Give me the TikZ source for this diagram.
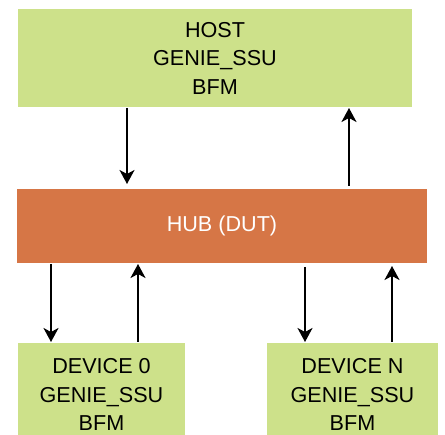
\documentclass[tikz,border=0pt]{standalone}
\usepackage{fontspec}
\setmainfont{Liberation Sans}
\usetikzlibrary{arrows.meta}

\definecolor{bfmgreen}{RGB}{205,225,138}
\definecolor{huborange}{RGB}{214,118,70}

\tikzset{every picture/.style={line width=2pt}}

\begin{document}
\begin{tikzpicture}[x=1pt,y=1pt,yscale=-1,xscale=1,
  bfmbox/.style={fill=bfmgreen,draw=none,align=center,inner sep=0pt,
    font=\fontsize{21.6}{28.5}\selectfont},
  dutbox/.style={fill=huborange,draw=none,text=white,inner sep=0pt,
    font=\fontsize{21.6}{28.5}\selectfont},
  flow/.style={-{Stealth[length=14pt,width=15pt,inset=4pt]},line width=2pt}]
%set diagram size
\clip (0,0) rectangle (445,435);

%Boxes
\node (host) [bfmbox,minimum width=394pt,minimum height=98pt] at (215,58) {HOST\\GENIE\_SSU\\BFM};
\node (hub) [dutbox,minimum width=410pt,minimum height=74pt] at (222,226) {HUB (DUT)};
\node (dev0) [bfmbox,minimum width=167pt,minimum height=103pt] at (101.5,394.5) {DEVICE 0\\GENIE\_SSU\\BFM};
\node (devn) [bfmbox,minimum width=171pt,minimum height=103pt] at (352.5,394.5) {DEVICE N\\GENIE\_SSU\\BFM};

%Arrow columns
\coordinate (hd) at (127,0);
\coordinate (hu) at (349,0);
\coordinate (zd) at (51,0);
\coordinate (zu) at (138,0);
\coordinate (nd) at (305,0);
\coordinate (nu) at (392,0);

%Host <-> hub
\draw [flow,shorten >=4pt] (host.south -| hd) -- (hub.north -| hd);
\draw [flow,shorten <=2pt] (hub.north -| hu) -- (host.south -| hu);
%Hub <-> device 0
\draw [flow] (hub.south -| zd) -- (dev0.north -| zd);
\draw [flow] (dev0.north -| zu) -- (hub.south -| zu);
%Hub <-> device N
\draw [flow,shorten <=3pt] (hub.south -| nd) -- (devn.north -| nd);
\draw [flow,shorten >=2pt] (devn.north -| nu) -- (hub.south -| nu);

\end{tikzpicture}
\end{document}
